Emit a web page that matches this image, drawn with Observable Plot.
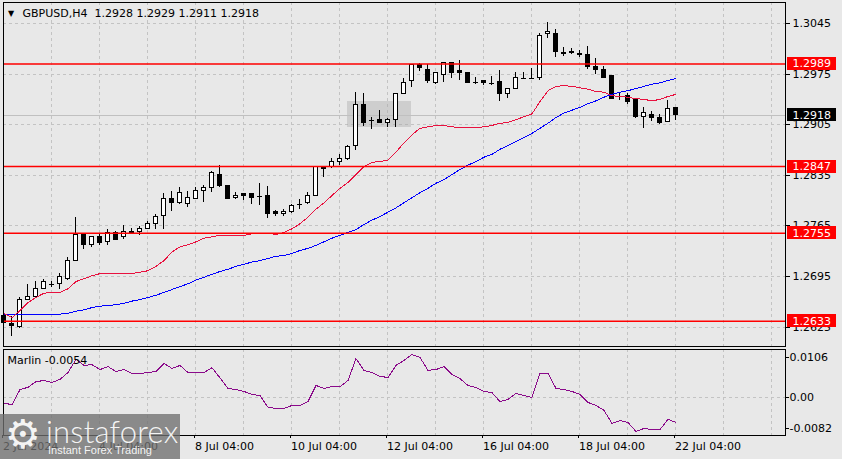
<!DOCTYPE html>
<html><head><meta charset="utf-8">
<script src="https://cdn.jsdelivr.net/npm/d3@7"></script>
<script src="https://cdn.jsdelivr.net/npm/@observablehq/plot@0.6"></script>
<style>
body{margin:0;background:#e8e8e8;}
#wrap{position:relative;width:842px;height:459px;overflow:hidden;background:#e8e8e8;font-family:"DejaVu Sans",sans-serif;}
#wrap svg{position:absolute;left:0;shape-rendering:crispEdges;}
#wrap svg text{shape-rendering:auto;}
#wm{position:absolute;left:0;top:414px;width:180px;height:45px;background:rgba(112,112,112,0.78);color:rgba(255,255,255,0.92);}
#wm .gear{position:absolute;left:5px;top:-4px;font-size:40px;line-height:48px;font-family:"DejaVu Sans";}
#wm .brand{position:absolute;left:46px;top:-1px;font-family:Lato,"Open Sans",sans-serif;font-size:31px;font-weight:300;letter-spacing:0.2px;line-height:36px;}
#wm .tag{position:absolute;left:48px;top:30px;font-family:"Liberation Sans",Arial,sans-serif;font-size:11px;line-height:13px;}
</style></head><body><div id="wrap"></div>
<script>
// ---- data ----
const symbol = "GBPUSD,H4";
const lastOHLC = [1.2928, 1.2929, 1.2911, 1.2918];
const open = [1.2640,1.2630,1.2625,1.2662,1.2666,1.2678,1.2684,1.2684,1.2691,1.2717,
1.2752,1.2739,1.2750,1.2743,1.2755,1.2749,1.2756,1.2756,1.2761,1.2768,
1.2779,1.2802,1.2797,1.2795,1.2802,1.2813,1.2817,1.2836,1.2820,1.2803,
1.2809,1.2809,1.2806,1.2806,1.2784,1.2781,1.2784,1.2795,1.2796,1.2807,
1.2844,1.2846,1.2853,1.2858,1.2876,1.2932,1.2911,1.2912,1.2908,1.2912,
1.2948,1.2966,1.2988,1.2981,1.2963,1.2974,1.2990,1.2979,1.2976,1.2963,
1.2966,1.2962,1.2964,1.2947,1.2954,1.2969,1.2969,1.2969,1.3030,1.3031,
1.3004,1.3005,1.3003,1.3002,1.2985,1.2980,1.2972,1.2944,1.2945,1.2940,
1.2916,1.2919,1.2914,1.2909,1.2928];
const high = [1.2644,1.2640,1.2666,1.2684,1.2688,1.2691,1.2688,1.2699,1.2721,1.2777,
1.2753,1.2750,1.2753,1.2760,1.2757,1.2766,1.2761,1.2764,1.2771,1.2781,
1.2810,1.2813,1.2818,1.2813,1.2818,1.2821,1.2840,1.2849,1.2820,1.2811,
1.2809,1.2810,1.2824,1.2820,1.2786,1.2788,1.2795,1.2802,1.2811,1.2847,
1.2846,1.2858,1.2864,1.2876,1.2950,1.2948,1.2915,1.2925,1.2914,1.2948,
1.2969,1.2988,1.2990,1.2988,1.2976,1.2990,1.2990,1.2994,1.2976,1.2970,
1.2966,1.2972,1.2980,1.2954,1.2977,1.2977,1.2983,1.3031,1.3046,1.3037,
1.3012,1.3010,1.3008,1.3013,1.2997,1.2986,1.2972,1.2950,1.2948,1.2940,
1.2929,1.2923,1.2919,1.2938,1.2929];
const low = [1.2630,1.2612,1.2623,1.2662,1.2666,1.2678,1.2680,1.2677,1.2690,1.2716,
1.2732,1.2735,1.2738,1.2738,1.2746,1.2746,1.2753,1.2752,1.2761,1.2760,
1.2760,1.2785,1.2795,1.2790,1.2802,1.2797,1.2811,1.2818,1.2802,1.2802,
1.2800,1.2795,1.2793,1.2775,1.2778,1.2778,1.2782,1.2788,1.2795,1.2806,
1.2832,1.2844,1.2849,1.2856,1.2869,1.2903,1.2898,1.2907,1.2901,1.2901,
1.2948,1.2957,1.2979,1.2962,1.2961,1.2963,1.2969,1.2966,1.2962,1.2961,
1.2959,1.2959,1.2937,1.2941,1.2954,1.2968,1.2968,1.2966,1.3024,1.2998,
1.2999,1.3002,1.2998,1.2981,1.2975,1.2969,1.2940,1.2939,1.2933,1.2914,
1.2900,1.2909,1.2905,1.2909,1.2911];
const close = [1.2631,1.2626,1.2662,1.2666,1.2678,1.2687,1.2684,1.2694,1.2717,1.2753,
1.2738,1.2749,1.2741,1.2755,1.2746,1.2757,1.2755,1.2761,1.2768,1.2778,
1.2802,1.2796,1.2811,1.2804,1.2813,1.2818,1.2838,1.2820,1.2802,1.2807,
1.2807,1.2804,1.2806,1.2782,1.2782,1.2784,1.2793,1.2795,1.2807,1.2846,
1.2845,1.2853,1.2857,1.2874,1.2932,1.2908,1.2911,1.2908,1.2911,1.2948,
1.2963,1.2987,1.2984,1.2966,1.2976,1.2990,1.2976,1.2977,1.2963,1.2963,
1.2962,1.2962,1.2947,1.2954,1.2970,1.2969,1.2969,1.3028,1.3033,1.3005,
1.3003,1.3004,1.3002,1.2985,1.2981,1.2970,1.2941,1.2944,1.2937,1.2915,
1.2921,1.2914,1.2908,1.2927,1.2918];
const maFast = [1.2644,1.2638,1.2648,1.2659,1.2666,1.2672,1.2673,1.2673,1.2678,1.2688,
1.2692,1.2696,1.2699,1.2699,1.2699,1.2699,1.2699,1.2701,1.2703,1.2709,
1.2717,1.2729,1.2736,1.2739,1.2743,1.2748,1.2750,1.2752,1.2752,1.2752,
1.2752,1.2754,1.2755,1.2755,1.2753,1.2756,1.2761,1.2768,1.2777,1.2788,
1.2797,1.2807,1.2817,1.2825,1.2836,1.2847,1.2853,1.2854,1.2856,1.2867,
1.2880,1.2891,1.2900,1.2902,1.2904,1.2904,1.2902,1.2901,1.2901,1.2901,
1.2902,1.2904,1.2907,1.2908,1.2912,1.2916,1.2920,1.2937,1.2952,1.2958,
1.2959,1.2958,1.2956,1.2954,1.2951,1.2950,1.2945,1.2944,1.2943,1.2941,
1.2940,1.2938,1.2940,1.2944,1.2947];
const maSlow = [1.2643,1.2643,1.2643,1.2643,1.2643,1.2643,1.2643,1.2643,1.2644,1.2647,
1.2649,1.2652,1.2654,1.2655,1.2656,1.2658,1.2661,1.2663,1.2666,1.2669,
1.2673,1.2677,1.2681,1.2685,1.2690,1.2694,1.2698,1.2702,1.2705,1.2709,
1.2712,1.2715,1.2717,1.2720,1.2723,1.2724,1.2727,1.2731,1.2734,1.2738,
1.2743,1.2748,1.2752,1.2756,1.2760,1.2767,1.2773,1.2778,1.2784,1.2790,
1.2797,1.2804,1.2811,1.2817,1.2824,1.2829,1.2836,1.2843,1.2849,1.2854,
1.2860,1.2864,1.2871,1.2876,1.2882,1.2887,1.2893,1.2900,1.2907,1.2915,
1.2921,1.2925,1.2929,1.2934,1.2938,1.2943,1.2947,1.2950,1.2952,1.2955,
1.2958,1.2961,1.2963,1.2966,1.2969];
const marlin = [-0.0015,-0.0019,0.0021,0.0027,0.0042,0.0045,0.0040,0.0048,0.0066,0.0101,
0.0085,0.0087,0.0074,0.0082,0.0069,0.0074,0.0064,0.0064,0.0066,0.0069,
0.0090,0.0077,0.0085,0.0066,0.0066,0.0066,0.0079,0.0052,0.0024,0.0021,
0.0016,0.0008,0.0005,-0.0026,-0.0029,-0.0029,-0.0021,-0.0021,-0.0011,0.0032,
0.0024,0.0029,0.0029,0.0045,0.0103,0.0072,0.0066,0.0056,0.0053,0.0085,
0.0098,0.0114,0.0106,0.0072,0.0074,0.0082,0.0061,0.0050,0.0032,0.0026,
0.0016,0.0013,-0.0011,-0.0005,0.0011,0.0005,0.0000,0.0064,0.0064,0.0024,
0.0021,0.0016,0.0008,-0.0013,-0.0021,-0.0034,-0.0069,-0.0061,-0.0066,-0.0090,
-0.0082,-0.0085,-0.0085,-0.0058,-0.0066];
const marlinLast = -0.0054;
const levels = [1.2989, 1.2847, 1.2755, 1.2633];
const bidPrice = 1.2918;
const priceTicks = [1.3045, 1.2975, 1.2905, 1.2835, 1.2765, 1.2695, 1.2625];
const marlinTicks = [0.0106, 0, -0.0082];
const marlinTickLabels = ["0.0106", "0.00", "-0.0082"];
const dateTickBars = [0, 12, 24, 36, 48, 60, 72, 84];
const dateTickLabels = ["2 Jul 2024", "4 Jul 04:00", "8 Jul 04:00", "10 Jul 04:00", "12 Jul 04:00", "16 Jul 04:00", "18 Jul 04:00", "22 Jul 04:00"];
const dayGridBars = [0, 6, 12, 18, 24, 30, 36, 42, 48, 54, 60, 66, 72, 78, 84, 90, 96];
const zoneBars = [43, 51];
const zonePrices = [1.2901, 1.2937];

// ---- tables ----
const candles = open.map((o, i) => ({i, o, h: high[i], l: low[i], c: close[i]}));
const dojis = candles.filter(d => Math.abs(d.o - d.c) < 0.00005);
const fast = maFast.map((v, i) => ({i, v}));
const slow = maSlow.map((v, i) => ({i, v}));
const osc = marlin.map((v, i) => ({i, v}));
const dateMap = new Map(dateTickBars.map((b, k) => [b, dateTickLabels[k]]));
const marlinMap = new Map(marlinTicks.map((t, k) => [t, marlinTickLabels[k]]));
const zone = [{x1: zoneBars[0], x2: zoneBars[1], y1: zonePrices[0], y2: zonePrices[1]}];

const W = 842, ML = 3, MR = 57;
const xDomain = [-0.0625, 97.69];
const baseStyle = {background: "transparent", fontFamily: "DejaVu Sans", fontSize: "11px", color: "black", overflow: "visible"};
const grid = "#c3c3c3";
const bw = 0.27;

const main = Plot.plot({
  width: W, height: 347, marginLeft: ML, marginRight: MR, marginTop: 2, marginBottom: 1,
  style: baseStyle,
  x: {domain: xDomain, axis: null},
  y: {domain: [1.25982, 1.30740], axis: null},
  color: {type: "identity"},
  marks: [
    Plot.ruleY(priceTicks, {stroke: grid, strokeDasharray: "3,3"}),
    Plot.ruleX(dayGridBars, {stroke: grid, strokeDasharray: "3,3"}),
    Plot.rect(zone, {x1: "x1", x2: "x2", y1: "y1", y2: "y2", fill: "#a8a8a8", fillOpacity: 0.4}),
    Plot.ruleY([bidPrice], {stroke: "#c0c0c0"}),
    Plot.ruleX(candles, {x: "i", y1: "l", y2: "h", stroke: "black"}),
    Plot.rect(candles, {x1: d => d.i - bw, x2: d => d.i + bw, y1: "o", y2: "c",
      fill: d => d.c < d.o ? "black" : "white", stroke: "black", strokeWidth: 1}),
    Plot.ruleY(dojis, {y: "o", x1: d => d.i - bw - 0.06, x2: d => d.i + bw + 0.06, stroke: "black"}),
    Plot.line(slow, {x: "i", y: "v", stroke: "#0000ff", strokeWidth: 1}),
    Plot.line(fast, {x: "i", y: "v", stroke: "#e8113f", strokeWidth: 1}),
    Plot.ruleY(levels, {stroke: "#ff0000", strokeWidth: 1.5, shapeRendering: "geometricPrecision"}),
    Plot.frame({stroke: "black"}),
    Plot.axisY({ticks: priceTicks, anchor: "right", label: null, tickSize: 4, tickPadding: 3, tickFormat: d => d.toFixed(4), fill: "black"}),
    Plot.text(["\u25BC"], {frameAnchor: "top-left", dx: 7.5, dy: 11, textAnchor: "middle", lineAnchor: "middle", fontSize: 8}),
    Plot.text([symbol + "\u00a0\u00a0" + lastOHLC.map(v => v.toFixed(4)).join(" ")],
      {frameAnchor: "top-left", dx: 19, dy: 11, textAnchor: "start", lineAnchor: "middle"})
  ]
});
main.style.top = "0px";

const sub = Plot.plot({
  width: W, height: 112, marginLeft: ML, marginRight: MR, marginTop: 2, marginBottom: 24,
  style: baseStyle,
  x: {domain: xDomain, axis: null},
  y: {domain: [-0.01007, 0.01272], axis: null},
  marks: [
    Plot.ruleY([0], {stroke: grid, strokeDasharray: "3,3"}),
    Plot.ruleX(dayGridBars, {stroke: grid, strokeDasharray: "3,3"}),
    Plot.line(osc, {x: "i", y: "v", stroke: "#8a0a8a", strokeWidth: 1}),
    Plot.frame({stroke: "black"}),
    Plot.axisY({ticks: marlinTicks, anchor: "right", label: null, tickSize: 3, tickPadding: 1, tickFormat: d => marlinMap.get(d), fill: "black"}),
    Plot.axisX({ticks: dateTickBars, anchor: "bottom", label: null, tickSize: 3, tickPadding: 4, textAnchor: "start", dx: -1, tickFormat: d => dateMap.get(d), fill: "black"}),
    Plot.text(["Marlin " + marlinLast.toFixed(4)], {frameAnchor: "top-left", dx: 4, dy: 11, textAnchor: "start", lineAnchor: "middle"})
  ]
});
sub.style.top = "347px";

const wrap = document.getElementById("wrap");
wrap.appendChild(main);
wrap.appendChild(sub);

// price label boxes on the right axis, placed with the plot's own y scale
const ys = main.scale("y");
const xr = W - MR;
const g = d3.select(main).append("g")
  .attr("font-family", "DejaVu Sans").attr("font-size", 11).attr("text-anchor", "start");
function tag(v, bg) {
  const yy = ys.apply(v);
  g.append("rect").attr("x", xr + 2).attr("y", yy - 6.5).attr("width", 49).attr("height", 13).attr("fill", bg);
  g.append("text").attr("x", xr + 7.5).attr("y", yy).attr("dy", "0.36em")
    .attr("text-anchor", "start").attr("fill", "white").text(v.toFixed(4));
}
levels.forEach(v => tag(v, "#ff0000"));
tag(bidPrice, "#000000");

// watermark
const wm = document.createElement("div");
wm.id = "wm";
wm.innerHTML = '<span class="gear">\u2699</span><span class="brand">instaforex</span><span class="tag">Instant Forex Trading</span>';
wrap.appendChild(wm);
</script></body></html>
